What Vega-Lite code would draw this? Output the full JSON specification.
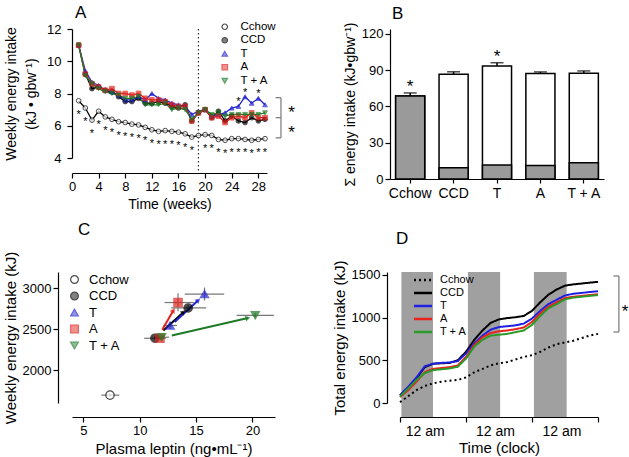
{
"$schema": "https://vega.github.io/schema/vega-lite/v6.json",
"padding": {"left": 3, "top": 4, "right": 4, "bottom": 4},
"config": {
  "font": "Liberation Sans",
  "view": {"stroke": null},
  "axis": {"grid": false, "domainColor": "#000", "tickColor": "#000", "labelColor": "#000", "titleColor": "#000", "labelFontSize": 12, "titleFontSize": 14, "titleFontWeight": "normal", "tickSize": 5, "domainWidth": 1.2, "tickWidth": 1.2, "labelFont": "Liberation Sans", "titleFont": "Liberation Sans", "labelOverlap": false},
  "legend": {"labelFontSize": 12, "labelFont": "Liberation Sans", "labelColor": "#000"},
  "title": {"fontSize": 17, "fontWeight": "normal", "anchor": "start", "frame": "group", "font": "Liberation Sans", "color": "#000"}
},
"datasets": {
  "weekly": [
    {"w":1,"g":"CCD","v":11.0},{"w":2,"g":"CCD","v":9.2},{"w":3,"g":"CCD","v":8.3},{"w":4,"g":"CCD","v":8.4},{"w":5,"g":"CCD","v":8.2},{"w":6,"g":"CCD","v":8.1},{"w":7,"g":"CCD","v":7.8},{"w":8,"g":"CCD","v":7.5},{"w":9,"g":"CCD","v":7.5},{"w":10,"g":"CCD","v":7.7},{"w":11,"g":"CCD","v":7.4},{"w":12,"g":"CCD","v":7.4},{"w":13,"g":"CCD","v":7.5},{"w":14,"g":"CCD","v":7.4},{"w":15,"g":"CCD","v":7.2},{"w":16,"g":"CCD","v":7.1},{"w":17,"g":"CCD","v":7.3},{"w":18,"g":"CCD","v":6.3},{"w":19,"g":"CCD","v":6.8},{"w":20,"g":"CCD","v":7.0},{"w":21,"g":"CCD","v":6.5},{"w":22,"g":"CCD","v":6.9},{"w":23,"g":"CCD","v":6.3},{"w":24,"g":"CCD","v":6.6},{"w":25,"g":"CCD","v":6.3},{"w":26,"g":"CCD","v":6.2},{"w":27,"g":"CCD","v":6.5},{"w":28,"g":"CCD","v":6.3},{"w":29,"g":"CCD","v":6.4},
    {"w":1,"g":"T","v":11.0},{"w":2,"g":"T","v":9.4},{"w":3,"g":"T","v":8.7},{"w":4,"g":"T","v":8.5},{"w":5,"g":"T","v":8.2},{"w":6,"g":"T","v":8.1},{"w":7,"g":"T","v":7.9},{"w":8,"g":"T","v":7.6},{"w":9,"g":"T","v":7.6},{"w":10,"g":"T","v":7.8},{"w":11,"g":"T","v":7.6},{"w":12,"g":"T","v":8.0},{"w":13,"g":"T","v":7.7},{"w":14,"g":"T","v":7.6},{"w":15,"g":"T","v":7.4},{"w":16,"g":"T","v":7.3},{"w":17,"g":"T","v":7.2},{"w":18,"g":"T","v":6.7},{"w":19,"g":"T","v":6.9},{"w":20,"g":"T","v":7.0},{"w":21,"g":"T","v":6.6},{"w":22,"g":"T","v":6.7},{"w":23,"g":"T","v":6.8},{"w":24,"g":"T","v":7.1},{"w":25,"g":"T","v":7.2},{"w":26,"g":"T","v":7.8},{"w":27,"g":"T","v":7.4},{"w":28,"g":"T","v":7.7},{"w":29,"g":"T","v":7.3},
    {"w":1,"g":"A","v":11.0},{"w":2,"g":"A","v":9.2},{"w":3,"g":"A","v":8.6},{"w":4,"g":"A","v":8.4},{"w":5,"g":"A","v":8.2},{"w":6,"g":"A","v":8.3},{"w":7,"g":"A","v":8.0},{"w":8,"g":"A","v":8.0},{"w":9,"g":"A","v":7.9},{"w":10,"g":"A","v":8.0},{"w":11,"g":"A","v":7.7},{"w":12,"g":"A","v":7.6},{"w":13,"g":"A","v":7.6},{"w":14,"g":"A","v":7.5},{"w":15,"g":"A","v":7.3},{"w":16,"g":"A","v":7.2},{"w":17,"g":"A","v":7.2},{"w":18,"g":"A","v":6.3},{"w":19,"g":"A","v":6.8},{"w":20,"g":"A","v":7.0},{"w":21,"g":"A","v":6.5},{"w":22,"g":"A","v":6.6},{"w":23,"g":"A","v":6.2},{"w":24,"g":"A","v":6.5},{"w":25,"g":"A","v":6.6},{"w":26,"g":"A","v":6.5},{"w":27,"g":"A","v":6.8},{"w":28,"g":"A","v":6.5},{"w":29,"g":"A","v":6.5},
    {"w":1,"g":"T + A","v":11.0},{"w":2,"g":"T + A","v":9.1},{"w":3,"g":"T + A","v":8.6},{"w":4,"g":"T + A","v":8.3},{"w":5,"g":"T + A","v":8.1},{"w":6,"g":"T + A","v":8.0},{"w":7,"g":"T + A","v":7.9},{"w":8,"g":"T + A","v":7.7},{"w":9,"g":"T + A","v":7.7},{"w":10,"g":"T + A","v":7.8},{"w":11,"g":"T + A","v":7.3},{"w":12,"g":"T + A","v":7.3},{"w":13,"g":"T + A","v":7.3},{"w":14,"g":"T + A","v":7.4},{"w":15,"g":"T + A","v":7.0},{"w":16,"g":"T + A","v":7.1},{"w":17,"g":"T + A","v":7.0},{"w":18,"g":"T + A","v":6.4},{"w":19,"g":"T + A","v":6.8},{"w":20,"g":"T + A","v":7.0},{"w":21,"g":"T + A","v":6.7},{"w":22,"g":"T + A","v":6.8},{"w":23,"g":"T + A","v":6.6},{"w":24,"g":"T + A","v":6.7},{"w":25,"g":"T + A","v":6.7},{"w":26,"g":"T + A","v":6.7},{"w":27,"g":"T + A","v":6.7},{"w":28,"g":"T + A","v":6.7},{"w":29,"g":"T + A","v":6.8},
    {"w":1,"g":"Cchow","v":7.55},{"w":2,"g":"Cchow","v":7.1},{"w":3,"g":"Cchow","v":6.35},{"w":4,"g":"Cchow","v":6.9},{"w":5,"g":"Cchow","v":6.55},{"w":6,"g":"Cchow","v":6.4},{"w":7,"g":"Cchow","v":6.25},{"w":8,"g":"Cchow","v":6.2},{"w":9,"g":"Cchow","v":6.1},{"w":10,"g":"Cchow","v":6.05},{"w":11,"g":"Cchow","v":5.9},{"w":12,"g":"Cchow","v":5.75},{"w":13,"g":"Cchow","v":5.65},{"w":14,"g":"Cchow","v":5.7},{"w":15,"g":"Cchow","v":5.65},{"w":16,"g":"Cchow","v":5.6},{"w":17,"g":"Cchow","v":5.5},{"w":18,"g":"Cchow","v":5.3},{"w":19,"g":"Cchow","v":5.4},{"w":20,"g":"Cchow","v":5.45},{"w":21,"g":"Cchow","v":5.4},{"w":22,"g":"Cchow","v":5.15},{"w":23,"g":"Cchow","v":5.1},{"w":24,"g":"Cchow","v":5.2},{"w":25,"g":"Cchow","v":5.2},{"w":26,"g":"Cchow","v":5.15},{"w":27,"g":"Cchow","v":5.1},{"w":28,"g":"Cchow","v":5.15},{"w":29,"g":"Cchow","v":5.2}
  ],
  "totals": [
    {"g":"Cchow","total":68.7,"hi":71.2,"gray":68.7,"star":true},
    {"g":"CCD","total":86.7,"hi":88.7,"gray":9.4,"star":false},
    {"g":"T","total":93.5,"hi":96.2,"gray":11.6,"star":true},
    {"g":"A","total":87.2,"hi":88.6,"gray":11.2,"star":false},
    {"g":"T + A","total":87.5,"hi":89.4,"gray":13.5,"star":false}
  ],
  "leptin": [
    {"g":"Cchow","x":7.37,"y":1696,"xlo":6.6,"xhi":8.2,"ylo":1675,"yhi":1718},
    {"g":"CCD","x":11.35,"y":2391,"xlo":10.4,"xhi":12.3,"ylo":2370,"yhi":2415},
    {"g":"A","x":11.8,"y":2391,"xlo":11.3,"xhi":12.3,"ylo":2365,"yhi":2420},
    {"g":"T + A","x":11.95,"y":2403,"xlo":11.4,"xhi":12.6,"ylo":2380,"yhi":2425},
    {"g":"T","x":12.7,"y":2547,"xlo":12.1,"xhi":13.3,"ylo":2505,"yhi":2590},
    {"g":"CCD","x":14.3,"y":2761,"xlo":12.8,"xhi":15.9,"ylo":2720,"yhi":2800},
    {"g":"A","x":13.4,"y":2827,"xlo":12.2,"xhi":14.8,"ylo":2720,"yhi":2940},
    {"g":"T","x":15.75,"y":2930,"xlo":14.0,"xhi":17.5,"ylo":2850,"yhi":3010},
    {"g":"T + A","x":20.25,"y":2671,"xlo":18.6,"xhi":21.9,"ylo":2640,"yhi":2700}
  ],
  "arrows": [
    {"g":"CCD","x1":12.1,"y1":2486,"x2":13.9,"y2":2712},
    {"g":"A","x1":12.0,"y1":2494,"x2":13.0,"y2":2733},
    {"g":"T","x1":13.1,"y1":2588,"x2":15.2,"y2":2856},
    {"g":"T + A","x1":12.85,"y1":2424,"x2":19.6,"y2":2638}
  ],
  "dark": [{"s":0.5,"e":12},{"s":24.7,"e":36.4},{"s":48.7,"e":60.6}],
  "cum": [
    {"h":0,"g":"Cchow","v":10},{"h":3,"g":"Cchow","v":80},{"h":6,"g":"Cchow","v":150},{"h":9,"g":"Cchow","v":200},{"h":12,"g":"Cchow","v":230},{"h":15,"g":"Cchow","v":250},{"h":18,"g":"Cchow","v":260},{"h":21,"g":"Cchow","v":270},{"h":24,"g":"Cchow","v":300},{"h":27,"g":"Cchow","v":360},{"h":30,"g":"Cchow","v":400},{"h":33,"g":"Cchow","v":440},{"h":36,"g":"Cchow","v":465},{"h":39,"g":"Cchow","v":480},{"h":42,"g":"Cchow","v":510},{"h":45,"g":"Cchow","v":540},{"h":48,"g":"Cchow","v":560},{"h":51,"g":"Cchow","v":600},{"h":54,"g":"Cchow","v":650},{"h":57,"g":"Cchow","v":690},{"h":60,"g":"Cchow","v":710},{"h":63,"g":"Cchow","v":730},{"h":66,"g":"Cchow","v":760},{"h":69,"g":"Cchow","v":790},{"h":72,"g":"Cchow","v":810},
    {"h":0,"g":"CCD","v":90},{"h":3,"g":"CCD","v":180},{"h":6,"g":"CCD","v":290},{"h":9,"g":"CCD","v":420},{"h":12,"g":"CCD","v":460},{"h":15,"g":"CCD","v":465},{"h":18,"g":"CCD","v":470},{"h":21,"g":"CCD","v":500},{"h":24,"g":"CCD","v":600},{"h":27,"g":"CCD","v":740},{"h":30,"g":"CCD","v":850},{"h":33,"g":"CCD","v":940},{"h":36,"g":"CCD","v":980},{"h":39,"g":"CCD","v":995},{"h":42,"g":"CCD","v":1005},{"h":45,"g":"CCD","v":1020},{"h":48,"g":"CCD","v":1080},{"h":51,"g":"CCD","v":1180},{"h":54,"g":"CCD","v":1270},{"h":57,"g":"CCD","v":1330},{"h":60,"g":"CCD","v":1375},{"h":63,"g":"CCD","v":1390},{"h":66,"g":"CCD","v":1400},{"h":69,"g":"CCD","v":1410},{"h":72,"g":"CCD","v":1420},
    {"h":0,"g":"T","v":90},{"h":3,"g":"T","v":190},{"h":6,"g":"T","v":300},{"h":9,"g":"T","v":430},{"h":12,"g":"T","v":460},{"h":15,"g":"T","v":470},{"h":18,"g":"T","v":475},{"h":21,"g":"T","v":490},{"h":24,"g":"T","v":580},{"h":27,"g":"T","v":700},{"h":30,"g":"T","v":790},{"h":33,"g":"T","v":860},{"h":36,"g":"T","v":890},{"h":39,"g":"T","v":900},{"h":42,"g":"T","v":910},{"h":45,"g":"T","v":930},{"h":48,"g":"T","v":990},{"h":51,"g":"T","v":1080},{"h":54,"g":"T","v":1160},{"h":57,"g":"T","v":1210},{"h":60,"g":"T","v":1260},{"h":63,"g":"T","v":1280},{"h":66,"g":"T","v":1290},{"h":69,"g":"T","v":1300},{"h":72,"g":"T","v":1310},
    {"h":0,"g":"A","v":70},{"h":3,"g":"A","v":150},{"h":6,"g":"A","v":250},{"h":9,"g":"A","v":360},{"h":12,"g":"A","v":400},{"h":15,"g":"A","v":410},{"h":18,"g":"A","v":420},{"h":21,"g":"A","v":440},{"h":24,"g":"A","v":540},{"h":27,"g":"A","v":680},{"h":30,"g":"A","v":770},{"h":33,"g":"A","v":820},{"h":36,"g":"A","v":840},{"h":39,"g":"A","v":850},{"h":42,"g":"A","v":865},{"h":45,"g":"A","v":885},{"h":48,"g":"A","v":950},{"h":51,"g":"A","v":1050},{"h":54,"g":"A","v":1130},{"h":57,"g":"A","v":1180},{"h":60,"g":"A","v":1230},{"h":63,"g":"A","v":1245},{"h":66,"g":"A","v":1255},{"h":69,"g":"A","v":1265},{"h":72,"g":"A","v":1275},
    {"h":0,"g":"T + A","v":75},{"h":3,"g":"T + A","v":170},{"h":6,"g":"T + A","v":270},{"h":9,"g":"T + A","v":350},{"h":12,"g":"T + A","v":385},{"h":15,"g":"T + A","v":395},{"h":18,"g":"T + A","v":405},{"h":21,"g":"T + A","v":425},{"h":24,"g":"T + A","v":520},{"h":27,"g":"T + A","v":660},{"h":30,"g":"T + A","v":740},{"h":33,"g":"T + A","v":790},{"h":36,"g":"T + A","v":800},{"h":39,"g":"T + A","v":810},{"h":42,"g":"T + A","v":830},{"h":45,"g":"T + A","v":850},{"h":48,"g":"T + A","v":915},{"h":51,"g":"T + A","v":1020},{"h":54,"g":"T + A","v":1110},{"h":57,"g":"T + A","v":1160},{"h":60,"g":"T + A","v":1215},{"h":63,"g":"T + A","v":1235},{"h":66,"g":"T + A","v":1245},{"h":69,"g":"T + A","v":1255},{"h":72,"g":"T + A","v":1265}
  ]
},
"spacing": 10,
"resolve": {"scale": {"x": "independent", "y": "independent", "stroke": "independent", "fill": "independent", "shape": "independent", "strokeDash": "independent", "color": "independent"}},
"vconcat": [
 {
  "spacing": 48,
  "resolve": {"scale": {"x": "independent", "y": "independent", "stroke": "independent", "fill": "independent", "shape": "independent", "strokeDash": "independent", "color": "independent"}},
  "hconcat": [
   {
    "width": 195, "height": 129,
    "title": {"text": "A", "dx": 3, "offset": -1},
    "layer": [
     {"data": {"values": [{}]},
      "mark": {"type": "rule", "strokeDash": [1.5, 2.5], "color": "#333", "strokeWidth": 1.2},
      "encoding": {"x": {"datum": 19, "type": "quantitative", "scale": {"domain": [0, 29.3], "nice": false, "zero": false}}, "y": {"datum": 12, "type": "quantitative", "scale": {"domain": [4, 12], "nice": false, "zero": false}}, "y2": {"datum": 3.07}}},
     {"data": {"name": "weekly"},
      "mark": {"type": "line", "strokeWidth": 1.3},
      "encoding": {
        "x": {"field": "w", "type": "quantitative", "scale": {"domain": [0, 29.3], "nice": false, "zero": false}, "axis": {"values": [0,4,8,12,16,20,24,28], "tickCount": 50, "format": "d", "offset": 15, "title": "Time (weeks)", "labelFontSize": 13, "titleFontSize": 14, "labelFlush": false, "labelOverlap": false}},
        "y": {"field": "v", "type": "quantitative", "scale": {"domain": [4, 12], "nice": false, "zero": false}, "axis": {"values": [4,6,8,10,12], "tickCount": 50, "format": "d", "title": ["Weekly energy intake", "(kJ • gbw⁻¹)"], "labelFontSize": 13, "titleFontSize": 14, "titleLineHeight": 20, "titlePadding": 8, "labelPadding": 6, "labelOverlap": false}},
        "stroke": {"field": "g", "type": "nominal", "scale": {"domain": ["Cchow","CCD","T","A","T + A"], "range": ["#000000","#000000","#2323cc","#e0231c","#1d7a25"]}, "legend": {"orient": "none", "legendX": 147, "legendY": -8, "title": null, "labelFontSize": 11.5, "symbolSize": 30, "rowPadding": 0.5, "symbolStrokeWidth": 1.2, "labelOffset": 10}}}},
     {"data": {"name": "weekly"},
      "mark": {"type": "point", "filled": true, "size": 22, "strokeWidth": 1},
      "encoding": {
        "x": {"field": "w", "type": "quantitative"},
        "y": {"field": "v", "type": "quantitative"},
        "stroke": {"field": "g", "type": "nominal"},
        "shape": {"field": "g", "type": "nominal", "scale": {"domain": ["Cchow","CCD","T","A","T + A"], "range": ["circle","circle","triangle-up","square","triangle-down"]}, "legend": {"orient": "none", "legendX": 147, "legendY": -8, "title": null, "labelFontSize": 11.5, "symbolSize": 30, "rowPadding": 0.5, "symbolStrokeWidth": 1.2, "labelOffset": 10}},
        "fill": {"field": "g", "type": "nominal", "scale": {"domain": ["Cchow","CCD","T","A","T + A"], "range": ["#ffffff","#000000","#2323cc","#e0231c","#1d7a25"]}, "legend": {"orient": "none", "legendX": 147, "legendY": -8, "title": null, "labelFontSize": 11.5, "symbolSize": 30, "rowPadding": 0.5, "symbolStrokeWidth": 1.2, "labelOffset": 10}}}},
     {"data": {"name": "weekly"},
      "transform": [{"filter": "datum.g == 'Cchow' && datum.w != 19"}],
      "mark": {"type": "text", "text": "*", "fontSize": 11, "dy": 17, "baseline": "alphabetic"},
      "encoding": {"x": {"field": "w", "type": "quantitative"}, "y": {"field": "v", "type": "quantitative"}}},
     {"data": {"name": "weekly"},
      "transform": [{"filter": "datum.g == 'T' && (datum.w == 25 || datum.w == 26 || datum.w == 28)"}],
      "mark": {"type": "text", "text": "*", "fontSize": 11, "dy": -1, "baseline": "alphabetic"},
      "encoding": {"x": {"field": "w", "type": "quantitative"}, "y": {"field": "v", "type": "quantitative"}}},
     {"data": {"values": [{}]},
      "mark": {"type": "rule", "color": "#777", "strokeWidth": 1.2},
      "encoding": {"x": {"datum": 31.4, "type": "quantitative"}, "y": {"datum": 5.25, "type": "quantitative"}, "y2": {"datum": 7.74}}},
     {"data": {"values": [{"y": 7.74}, {"y": 6.5}, {"y": 5.25}]},
      "mark": {"type": "rule", "color": "#777", "strokeWidth": 1.2},
      "encoding": {"x": {"datum": 30.6, "type": "quantitative"}, "x2": {"datum": 31.4}, "y": {"field": "y", "type": "quantitative"}}},
     {"data": {"values": [{"y": 7.1}, {"y": 5.85}]},
      "mark": {"type": "text", "text": "*", "fontSize": 17, "dy": 10, "baseline": "alphabetic"},
      "encoding": {"x": {"datum": 33.0, "type": "quantitative"}, "y": {"field": "y", "type": "quantitative"}}}
    ]
   },
   {
    "width": 214, "height": 150,
    "title": {"text": "B", "dx": 2, "offset": -1},
    "data": {"name": "totals"},
    "encoding": {"x": {"field": "g", "type": "nominal", "sort": null, "scale": {"paddingInner": 0.33, "paddingOuter": 0.13}, "axis": {"title": null, "labelAngle": 0, "labelFontSize": 14, "tickSize": 4, "labelPadding": 3}}},
    "layer": [
     {"mark": {"type": "bar", "fill": "white", "stroke": "black", "strokeWidth": 1.5},
      "encoding": {"y": {"field": "total", "type": "quantitative", "scale": {"domain": [0, 124.1], "nice": false}, "axis": {"values": [0,30,60,90,120], "tickCount": 50, "format": "d", "title": "Σ energy intake (kJ•gbw⁻¹)", "labelFontSize": 13, "titleFontSize": 14, "labelOverlap": false}}}},
     {"mark": {"type": "rule", "strokeWidth": 1.5},
      "encoding": {"y": {"field": "total", "type": "quantitative"}, "y2": {"field": "hi"}}},
     {"mark": {"type": "tick", "orient": "horizontal", "size": 13, "thickness": 1.5, "color": "black"},
      "encoding": {"y": {"field": "hi", "type": "quantitative"}}},
     {"mark": {"type": "bar", "fill": "#9a9a9a", "stroke": "black", "strokeWidth": 1.5},
      "encoding": {"y": {"field": "gray", "type": "quantitative"}}},
     {"transform": [{"filter": "datum.star"}],
      "mark": {"type": "text", "text": "*", "fontSize": 17, "dy": -1, "baseline": "alphabetic"},
      "encoding": {"y": {"field": "hi", "type": "quantitative"}}}
    ]
   }
  ]
 },
 {
  "spacing": 57,
  "resolve": {"scale": {"x": "independent", "y": "independent", "stroke": "independent", "fill": "independent", "shape": "independent", "strokeDash": "independent", "color": "independent"}},
  "hconcat": [
   {
    "width": 203, "height": 131,
    "title": {"text": "C", "dx": 6, "offset": 12},
    "layer": [
     {"data": {"name": "leptin"},
      "mark": {"type": "rule", "color": "#777", "strokeWidth": 1.2},
      "encoding": {
        "x": {"field": "xlo", "type": "quantitative", "scale": {"domain": [4, 22], "nice": false, "zero": false}, "axis": {"values": [5,10,15,20], "tickCount": 50, "format": "d", "offset": 14, "title": "Plasma leptin (ng•mL⁻¹)", "labelFontSize": 13, "titleFontSize": 15, "labelOverlap": false}},
        "x2": {"field": "xhi"},
        "y": {"field": "y", "type": "quantitative", "scale": {"domain": [1600, 3200], "nice": false, "zero": false}, "axis": {"values": [2000, 2500, 3000], "tickCount": 50, "format": "d", "offset": 14, "title": "Weekly energy intake (kJ)", "labelFontSize": 13, "titleFontSize": 15, "labelOverlap": false}}}},
     {"data": {"name": "leptin"},
      "mark": {"type": "rule", "color": "#777", "strokeWidth": 1.2},
      "encoding": {"x": {"field": "x", "type": "quantitative"}, "y": {"field": "ylo", "type": "quantitative"}, "y2": {"field": "yhi"}}},
     {"data": {"name": "arrows"},
      "mark": {"type": "rule", "strokeWidth": 2},
      "encoding": {"x": {"field": "x1", "type": "quantitative"}, "x2": {"field": "x2"}, "y": {"field": "y1", "type": "quantitative"}, "y2": {"field": "y2"},
        "stroke": {"field": "g", "type": "nominal", "scale": {"domain": ["Cchow","CCD","T","A","T + A"], "range": ["#000000","#000000","#2323cc","#e0231c","#1d7a25"]}}}},
     {"data": {"name": "arrows"},
      "transform": [{"calculate": "atan2(-(datum.y2 - datum.y1) * 0.0819, (datum.x2 - datum.x1) * 11.28) * 180 / PI", "as": "ang"}],
      "mark": {"type": "point", "shape": "triangle-right", "filled": true, "size": 35, "strokeWidth": 0},
      "encoding": {"x": {"field": "x2", "type": "quantitative"}, "y": {"field": "y2", "type": "quantitative"},
        "angle": {"field": "ang", "type": "quantitative", "scale": null},
        "fill": {"field": "g", "type": "nominal"}}},
     {"data": {"name": "leptin"},
      "mark": {"type": "point", "filled": true, "size": 70, "strokeWidth": 1.2},
      "encoding": {
        "x": {"field": "x", "type": "quantitative"},
        "y": {"field": "y", "type": "quantitative"},
        "shape": {"field": "g", "type": "nominal", "scale": {"domain": ["Cchow","CCD","T","A","T + A"], "range": ["circle","circle","triangle-up","square","triangle-down"]}, "legend": {"orient": "none", "legendX": -4, "legendY": 1, "title": null, "labelFontSize": 13, "symbolSize": 60, "rowPadding": 2.5, "symbolStrokeWidth": 1.2, "labelOffset": 8}},
        "fill": {"field": "g", "type": "nominal", "scale": {"domain": ["Cchow","CCD","T","A","T + A"], "range": ["#ffffff","#000000","#2323cc","#e0231c","#1d7a25"]}, "legend": {"orient": "none", "legendX": -4, "legendY": 1, "title": null, "labelFontSize": 13, "symbolSize": 60, "rowPadding": 2.5, "symbolStrokeWidth": 1.2, "labelOffset": 8}},
        "stroke": {"field": "g", "type": "nominal", "legend": {"orient": "none", "legendX": -4, "legendY": 1, "title": null, "labelFontSize": 13, "symbolSize": 60, "rowPadding": 2.5, "symbolStrokeWidth": 1.2, "labelOffset": 8}}}}
    ]
   },
   {
    "width": 198, "height": 131,
    "title": {"text": "D", "dx": -4, "offset": 12},
    "layer": [
     {"data": {"name": "dark"},
      "mark": {"type": "rect", "fill": "#a0a0a0"},
      "encoding": {
        "x": {"field": "s", "type": "quantitative", "scale": {"domain": [0, 72], "nice": false, "zero": false},
          "axis": {"values": [0, 9, 24, 34.5, 48, 58.7, 72], "tickCount": 50, "labelExpr": "datum.value % 24 == 0 ? '' : '12 am'", "tickOpacity": {"condition": {"test": "datum.value % 24 == 0", "value": 1}, "value": 0}, "labelFlush": false, "labelOverlap": false, "offset": 14, "title": "Time (clock)", "labelFontSize": 14, "titleFontSize": 15, "titlePadding": 2}},
        "x2": {"field": "e"},
        "y": {"datum": 1535, "type": "quantitative", "scale": {"domain": [0, 1535], "nice": false, "zero": false}, "axis": {"values": [0, 500, 1000, 1500], "tickCount": 50, "format": "d", "offset": 13, "title": "Total energy intake (kJ)", "labelFontSize": 13, "titleFontSize": 15, "labelOverlap": false}},
        "y2": {"datum": -164}}},
     {"data": {"name": "cum"},
      "mark": {"type": "line", "strokeWidth": 2},
      "encoding": {
        "x": {"field": "h", "type": "quantitative"},
        "y": {"field": "v", "type": "quantitative"},
        "stroke": {"field": "g", "type": "nominal", "scale": {"domain": ["Cchow","CCD","T","A","T + A"], "range": ["#000000","#000000","#2020e0","#e8231c","#2a9a2a"]}, "legend": {"orient": "none", "legendX": 17, "legendY": 2, "title": null, "labelFontSize": 11, "symbolType": "M-2,0L2,0", "symbolSize": 81, "symbolStrokeWidth": 2.5, "rowPadding": 2, "labelOffset": 11}},
        "strokeDash": {"field": "g", "type": "nominal", "scale": {"domain": ["Cchow","CCD","T","A","T + A"], "range": [[2,3],[1,0],[1,0],[1,0],[1,0]]}, "legend": {"orient": "none", "legendX": 17, "legendY": 2, "title": null, "labelFontSize": 11, "symbolType": "M-2,0L2,0", "symbolSize": 81, "symbolStrokeWidth": 2.5, "rowPadding": 2, "labelOffset": 11}}}},
     {"data": {"values": [{}]},
      "mark": {"type": "rule", "color": "#777", "strokeWidth": 1.2},
      "encoding": {"x": {"datum": 79.6, "type": "quantitative"}, "y": {"datum": 832, "type": "quantitative"}, "y2": {"datum": 1488}}},
     {"data": {"values": [{"y": 1488}, {"y": 832}]},
      "mark": {"type": "rule", "color": "#777", "strokeWidth": 1.2},
      "encoding": {"x": {"datum": 77.6, "type": "quantitative"}, "x2": {"datum": 79.6}, "y": {"field": "y", "type": "quantitative"}}},
     {"data": {"values": [{}]},
      "mark": {"type": "text", "text": "*", "fontSize": 17, "dy": 10, "baseline": "alphabetic"},
      "encoding": {"x": {"datum": 81.8, "type": "quantitative"}, "y": {"datum": 1125, "type": "quantitative"}}}
    ]
   }
  ]
 }
]
}
